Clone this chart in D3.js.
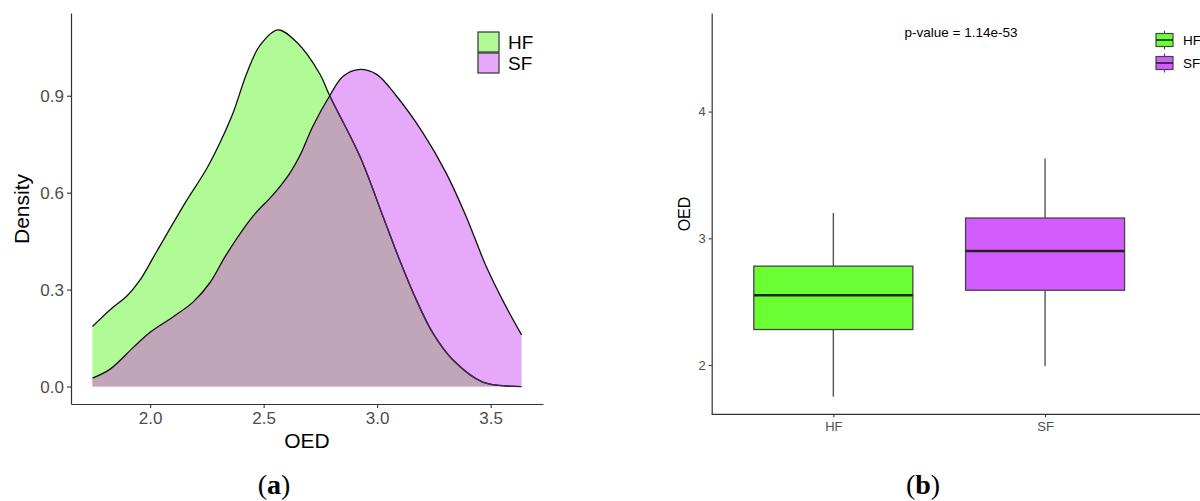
<!DOCTYPE html>
<html>
<head>
<meta charset="utf-8">
<script src="https://cdn.jsdelivr.net/npm/d3@7"></script>
<style>
  html, body { margin: 0; padding: 0; background: #fff; }
  svg { display: block; font-family: "Liberation Sans", Arial, sans-serif; }
</style>
</head>
<body>
<svg id="chart" width="1200" height="501"></svg>
<script>
// panel (a): density of OED per group
const hfOed = [1.746, 1.824, 1.900, 1.956, 2.029, 2.161, 2.249, 2.308, 2.366, 2.425, 2.483, 2.563, 2.645, 2.747, 2.791, 2.923, 3.025, 3.098, 3.172, 3.245, 3.333, 3.465, 3.636];
const hfDensity = [0.186, 0.238, 0.282, 0.330, 0.418, 0.576, 0.674, 0.755, 0.848, 0.968, 1.055, 1.104, 1.066, 0.968, 0.900, 0.714, 0.528, 0.393, 0.269, 0.166, 0.083, 0.014, 0.0];
const sfOed = [1.746, 1.824, 1.927, 2.0, 2.102, 2.190, 2.264, 2.337, 2.454, 2.542, 2.615, 2.659, 2.718, 2.791, 2.850, 2.916, 2.996, 3.084, 3.201, 3.303, 3.391, 3.479, 3.567, 3.636];
const sfDensity = [0.026, 0.054, 0.122, 0.168, 0.216, 0.262, 0.322, 0.410, 0.528, 0.594, 0.660, 0.714, 0.807, 0.900, 0.960, 0.981, 0.967, 0.900, 0.786, 0.662, 0.528, 0.374, 0.248, 0.160];
const densityTicksX = [2.0, 2.5, 3.0, 3.5];
const densityTicksY = [0.0, 0.3, 0.6, 0.9];

// panel (b): boxplot stats
const groups = ['HF', 'SF'];
const whiskerLow = [1.75, 1.99];
const q1 = [2.28, 2.59];
const median = [2.55, 2.90];
const q3 = [2.78, 3.16];
const whiskerHigh = [3.20, 3.63];
const boxTicksY = [2, 3, 4];
const pValueText = 'p-value = 1.14e-53';

const densFill = { HF: '#b0fb96', SF: '#e6a8f8' };
const overlapFill = '#c1a5b9';
const boxFill = { HF: '#6aff33', SF: '#d35cff' };

const svg = d3.select('#chart');

function styleAxis(axisG, fontSize) {
  axisG.select('.domain').attr('stroke', '#333').attr('stroke-width', 1.2);
  axisG.selectAll('.tick line').attr('stroke', '#333').attr('stroke-width', 1.1);
  axisG.selectAll('.tick text')
    .attr('fill', '#4d4d4d')
    .style('font-size', fontSize + 'px')
    .style('font-family', '"Liberation Sans", Arial, sans-serif');
}

// ---------- (a) density ----------
const xA = d3.scaleLinear().domain([1.6515, 3.7305]).range([71, 543]);
const yA = d3.scaleLinear().domain([-0.054, 1.156]).range([404, 13]);

const hfPts = hfOed.map((x, i) => [x, hfDensity[i]]);
const sfPts = sfOed.map((x, i) => [x, sfDensity[i]]);

const curve = d3.curveCatmullRom.alpha(0.5);
const area = d3.area().curve(curve)
  .x(d => xA(d[0])).y0(yA(0)).y1(d => yA(d[1]));
const line = d3.line().curve(curve)
  .x(d => xA(d[0])).y(d => yA(d[1]));

const defs = svg.append('defs');
defs.append('clipPath').attr('id', 'clip-hf').append('path').attr('d', area(hfPts));
defs.append('clipPath').attr('id', 'clip-sf').append('path').attr('d', area(sfPts));

const gA = svg.append('g');
gA.append('path').attr('d', area(hfPts)).attr('fill', densFill.HF);
gA.append('path').attr('d', area(sfPts)).attr('fill', densFill.SF);
gA.append('path').attr('d', area(sfPts)).attr('fill', overlapFill).attr('clip-path', 'url(#clip-hf)');
gA.append('path').attr('d', line(hfPts)).attr('fill', 'none').attr('stroke', '#111').attr('stroke-width', 1.3);
gA.append('path').attr('d', line(hfPts)).attr('fill', 'none').attr('stroke', '#4e2160').attr('stroke-width', 1.3)
  .attr('clip-path', 'url(#clip-sf)');
gA.append('path').attr('d', line(sfPts)).attr('fill', 'none').attr('stroke', '#111').attr('stroke-width', 1.3);

const axAx = gA.append('g').attr('transform', 'translate(0,404)')
  .call(d3.axisBottom(xA).tickValues(densityTicksX).tickFormat(d3.format('.1f')).tickSize(4).tickSizeOuter(0).tickPadding(4));
styleAxis(axAx, 17);
const axAy = gA.append('g').attr('transform', 'translate(71,0)')
  .call(d3.axisLeft(yA).tickValues(densityTicksY).tickFormat(d3.format('.1f')).tickSize(4).tickSizeOuter(0).tickPadding(3));
styleAxis(axAy, 17);
axAy.selectAll('.tick text').attr('dy', '0.36em');

gA.append('text').attr('x', 307).attr('y', 448).attr('text-anchor', 'middle')
  .style('font-size', '21px').attr('fill', '#000').text('OED');
gA.append('text').attr('transform', 'translate(29,209) rotate(-90)').attr('text-anchor', 'middle')
  .style('font-size', '21px').attr('fill', '#000').text('Density');

// legend (a)
groups.forEach((g, i) => {
  const y0 = 32 + i * 21;
  gA.append('rect').attr('x', 478).attr('y', y0).attr('width', 21).attr('height', 20)
    .attr('fill', densFill[g]).attr('stroke', '#333').attr('stroke-width', 1.2);
  gA.append('text').attr('x', 508).attr('y', y0 + 10).attr('dy', '0.36em')
    .style('font-size', '19px').attr('fill', '#000').text(g);
});

// ---------- (b) boxplot ----------
const xB = d3.scalePoint().domain(groups).range([711.7, 1166.7]).padding(0.5745);
const yB = d3.scaleLinear().domain([1.611, 4.778]).range([414.3, 13]);
const boxW = 159;

const gB = svg.append('g');
groups.forEach((g, i) => {
  const cx = xB(g);
  gB.append('line').attr('x1', cx).attr('x2', cx).attr('y1', yB(whiskerLow[i])).attr('y2', yB(q1[i]))
    .attr('stroke', '#555').attr('stroke-width', 1.4);
  gB.append('line').attr('x1', cx).attr('x2', cx).attr('y1', yB(q3[i])).attr('y2', yB(whiskerHigh[i]))
    .attr('stroke', '#555').attr('stroke-width', 1.4);
  gB.append('rect').attr('x', cx - boxW / 2).attr('y', yB(q3[i])).attr('width', boxW)
    .attr('height', yB(q1[i]) - yB(q3[i]))
    .attr('fill', boxFill[g]).attr('stroke', '#444').attr('stroke-width', 1.3);
  gB.append('line').attr('x1', cx - boxW / 2).attr('x2', cx + boxW / 2).attr('y1', yB(median[i])).attr('y2', yB(median[i]))
    .attr('stroke', '#222').attr('stroke-width', 2.6);
});

const axBx = gB.append('g').attr('transform', 'translate(0,414.3)')
  .call(d3.axisBottom(xB).tickSize(3).tickSizeOuter(0).tickPadding(4));
axBx.select('.domain').remove();
gB.append('line').attr('x1', 711.7).attr('x2', 1200).attr('y1', 414.3).attr('y2', 414.3)
  .attr('stroke', '#333').attr('stroke-width', 1.2);
styleAxis(axBx, 13);
const axBy = gB.append('g').attr('transform', 'translate(711.7,0)')
  .call(d3.axisLeft(yB).tickValues(boxTicksY).tickFormat(d3.format('d')).tickSize(3).tickSizeOuter(0).tickPadding(3));
styleAxis(axBy, 13);

gB.append('text').attr('x', 961).attr('y', 37).attr('text-anchor', 'middle')
  .style('font-size', '13.5px').attr('fill', '#000').text(pValueText);
gB.append('text').attr('transform', 'translate(690,214) rotate(-90)').attr('text-anchor', 'middle')
  .style('font-size', '16px').attr('fill', '#000').text('OED');

// legend (b)
groups.forEach((g, i) => {
  const top = 33.5 + i * 23, h = 13, x0 = 1156, w = 17;
  gB.append('line').attr('x1', x0 + w / 2).attr('x2', x0 + w / 2).attr('y1', top - 3).attr('y2', top + h + 3)
    .attr('stroke', '#555').attr('stroke-width', 1.2);
  gB.append('rect').attr('x', x0).attr('y', top).attr('width', w).attr('height', h)
    .attr('fill', boxFill[g]).attr('stroke', '#444').attr('stroke-width', 1.2);
  gB.append('line').attr('x1', x0).attr('x2', x0 + w).attr('y1', top + h / 2).attr('y2', top + h / 2)
    .attr('stroke', '#222').attr('stroke-width', 1.6);
  gB.append('text').attr('x', 1183).attr('y', top + h / 2).attr('dy', '0.36em')
    .style('font-size', '13.5px').attr('fill', '#000').text(g);
});

// panel captions
[['a', 274], ['b', 923]].forEach(([letter, cx]) => {
  const t = svg.append('text').attr('x', cx).attr('y', 494).attr('text-anchor', 'middle')
    .style('font-family', '"Liberation Serif", "Times New Roman", serif').style('font-size', '28px').attr('fill', '#000');
  t.append('tspan').text('(');
  t.append('tspan').style('font-weight', 'bold').text(letter);
  t.append('tspan').text(')');
});
</script>
</body>
</html>
